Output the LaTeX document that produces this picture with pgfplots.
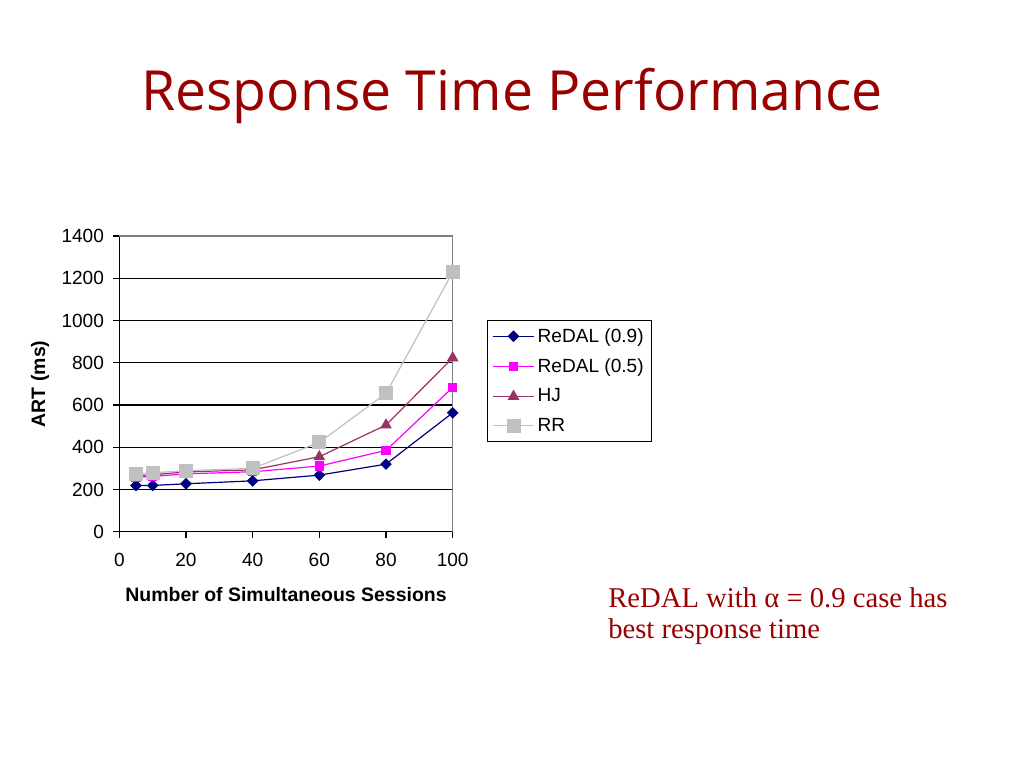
\documentclass[border=0pt]{standalone}
\usepackage{pgfplots}
\pgfplotsset{compat=1.18}
\usepackage{fontspec}
\setmainfont{Liberation Sans}
\newfontfamily\notefont{Liberation Serif}
\newfontfamily\titlefont{Open Sans}
\definecolor{titlered}{HTML}{990000}
\definecolor{hjcol}{HTML}{993366}
\definecolor{rrcol}{HTML}{C0C0C0}
\definecolor{navyblue}{HTML}{000080}
\definecolor{pinkish}{HTML}{FF00FF}
\begin{document}
\begin{tikzpicture}[x=0.75pt,y=0.75pt]
  \path[fill=white] (0,0) rectangle (1024,768);
  \node[font=\titlefont\fontsize{41.5}{48}\selectfont, text=titlered, anchor=base] at (512,657) {Response Time Performance};
  \begin{axis}[
    at={(89.5pt,177.2pt)}, anchor=south west,
    scale only axis,
    width=250pt, height=221.8pt,
    xmin=0, xmax=100, ymin=0, ymax=1400,
    xtick={0,20,40,60,80,100},
    ytick={0,200,400,600,800,1000,1200,1400},
    axis lines=left,
    axis line style={-, black, line width=0.9pt},
    tick align=outside,
    major tick length=4.5pt,
    tick style={black, line width=0.8pt},
    ymajorgrids,
    grid style={black, line width=1pt},
    /pgf/number format/assume math mode=true,
    /pgf/number format/1000 sep={},
    ticklabel style={font=\fontsize{14.3}{16}\selectfont},
    xticklabel style={yshift=-8pt},
    yticklabel style={xshift=-3.5pt},
    xlabel={\textbf{Number of Simultaneous Sessions}},
    ylabel={\textbf{ART (ms)}},
    label style={font=\fontsize{14.6}{16}\selectfont},
    xlabel style={at={(axis description cs:0.5,-0.214)}, anchor=center},
    ylabel style={at={(axis description cs:-0.238,0.5)}, anchor=center},
    legend style={at={(1.103,0.716)}, anchor=north west, draw=black, line width=0.6pt,
      font=\fontsize{14.3}{16}\selectfont, row sep=6.8pt, inner xsep=3.5pt, inner ysep=4pt},
    legend cell align=left,
    legend image code/.code={\draw[mark repeat=2,mark phase=2,#1] plot coordinates {(0cm,0cm) (0.55cm,0cm) (1.1cm,0cm)};},
    clip=false,
  ]
    \addplot[navyblue, line width=0.9pt, mark=square*, mark size=2.65pt, mark options={fill=navyblue, rotate=45}] coordinates {
      (5,219) (10,219) (20,227) (40,241) (60,268) (80,320) (100,563)};
    \addlegendentry{ReDAL (0.9)}
    \addplot[pinkish, line width=0.9pt, mark=square*, mark size=3pt, mark options={fill=pinkish}] coordinates {
      (5,258) (10,262) (20,274) (40,284) (60,311) (80,385) (100,683)};
    \addlegendentry{ReDAL (0.5)}
    \addplot[hjcol, line width=0.9pt, mark=triangle*, mark size=4.2pt, mark options={fill=hjcol}] coordinates {
      (5,265) (10,270) (20,283) (40,293) (60,355) (80,505) (100,823)};
    \addlegendentry{HJ}
    \addplot[rrcol, line width=0.9pt, mark=square*, mark size=4.8pt, mark options={fill=rrcol}] coordinates {
      (5,273) (10,279) (20,289) (40,300) (60,423) (80,655) (100,1228)};
    \addlegendentry{RR}
    \draw[gray, line width=0.9pt] (axis cs:0,1400) -- (axis cs:100,1400) -- (axis cs:100,0);
  \end{axis}
  \node[font=\notefont\fontsize{21.5}{25}\selectfont, text=titlered, anchor=base west, inner sep=0pt] at (608,161) {ReDAL with α = 0.9 case has};
  \node[font=\notefont\fontsize{21.5}{25}\selectfont, text=titlered, anchor=base west, inner sep=0pt] at (608,130) {best response time};
\end{tikzpicture}
\end{document}
